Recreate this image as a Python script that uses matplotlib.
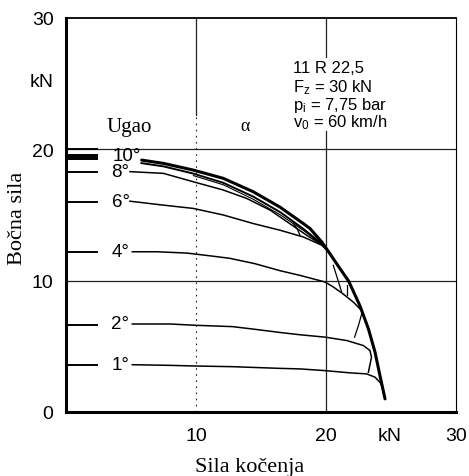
import matplotlib
matplotlib.use("Agg")
import matplotlib.pyplot as plt

# ---- data ----
env_x = [5.82, 7.49, 9.79, 12.1, 14.4, 16.46, 18.25, 18.77, 19.67, 20.2, 20.95, 21.75, 22.6, 23.26, 23.77, 24.15, 24.54]
env_y = [19.18, 18.93, 18.42, 17.79, 16.77, 15.6, 14.35, 13.97, 12.95, 12.2, 11.1, 9.95, 8.11, 6.34, 4.56, 2.77, 1.0]

a10_x = [5.8, 7.5, 9.8, 12.1, 14.4, 16.5, 18.25, 19.7, 20.2]
a10_y = [18.95, 18.7, 18.15, 17.45, 16.4, 15.2, 13.95, 12.8, 12.2]

a10b_x = [9.8, 12.1, 14.4, 16.5, 18.3, 19.6]
a10b_y = [18.0, 17.3, 16.2, 15.0, 13.8, 12.8]

a8_x = [4.92, 7.49, 9.79, 12.1, 13.9, 15.7, 17.2, 18.6, 19.67, 20.2]
a8_y = [18.3, 18.17, 17.53, 16.9, 16.26, 15.37, 14.35, 13.4, 12.75, 12.2]

a6_x = [4.92, 7.49, 9.79, 12.1, 14.4, 16.46, 18.25, 19.67, 20.4]
a6_y = [16.05, 15.75, 15.5, 15.0, 14.35, 13.84, 13.33, 12.7, 12.0]

a4_x = [5.1, 7.0, 9.3, 11.0, 12.6, 14.5, 16.5, 18.0, 19.92, 20.56, 21.3, 22.1, 22.6]
a4_y = [12.2, 12.2, 12.1, 11.9, 11.7, 11.3, 10.75, 10.4, 9.9, 9.52, 9.0, 8.37, 7.86]

a2_x = [5.1, 8.0, 10.0, 12.8, 14.5, 16.5, 18.0, 19.92, 21.6, 22.87, 23.38, 23.5, 23.26]
a2_y = [6.7, 6.7, 6.6, 6.5, 6.3, 6.05, 5.88, 5.7, 5.44, 5.06, 4.68, 4.17, 3.03]

a1_x = [5.1, 8.0, 10.0, 12.8, 16.5, 18.0, 19.92, 21.85, 23.13, 23.77, 24.15, 24.35]
a1_y = [3.6, 3.55, 3.5, 3.45, 3.32, 3.28, 3.15, 2.98, 2.9, 2.65, 2.26, 1.9]

hooks = [
    ([22.75, 22.5, 22.2], [7.48, 6.6, 5.7]),
    ([20.56, 20.9, 21.2], [11.17, 10.1, 9.14]),
    ([21.6, 21.6], [9.65, 8.9]),
    ([17.5, 17.8, 18.0], [14.35, 13.9, 13.46]),
]

marker_levels = [20.0, 19.6, 19.4, 19.25, 18.3, 16.0, 12.2, 6.6, 3.6]
angle_labels = ["10°", "8°", "6°", "4°", "2°", "1°"]
angle_label_x = [4.7, 4.2, 4.2, 4.2, 4.15, 4.2]
angle_label_y = [19.5, 18.3, 16.0, 12.2, 6.7, 3.6]

xtick_pos = [10, 20, 24.9, 30]
xtick_lab = ["10", "20", "kN", "30"]
ytick_pos = [0, 10, 20, 25.3, 30]
ytick_lab = ["0", "10", "20", "kN", "30"]

info_lines = ["11 R 22,5", r"$\mathregular{F_z}$ = 30 kN",
              r"$\mathregular{p_i}$ = 7,75 bar", r"$\mathregular{v_0}$ = 60 km/h"]
info_y = [26.2, 24.8, 23.45, 22.1]

# ---- figure ----
plt.rcParams['font.family'] = ['Liberation Sans', 'DejaVu Sans']
fig = plt.figure(figsize=(4.69, 4.77), dpi=100)
ax = fig.add_axes([0.1407, 0.1342, 0.8316, 0.826])
ax.set_xlim(0, 30)
ax.set_ylim(0, 30)

# grid lines
gc = '#222222'
ax.plot([10, 10], [22.6, 30], color=gc, lw=0.9)
ax.plot([10, 10], [0, 22.6], color=gc, lw=0.8, ls=(0, (1.5, 4)))
ax.plot([20, 20], [0, 21.4], color=gc, lw=0.9)
ax.plot([20, 20], [27.0, 30], color=gc, lw=0.9)
ax.plot([0, 30], [10, 10], color=gc, lw=0.9)
ax.plot([0, 30], [20, 20], color=gc, lw=0.9)

# curves
ax.plot(env_x, env_y, color='black', lw=2.2, solid_capstyle='round', solid_joinstyle='round')
ax.plot(a10_x, a10_y, color='black', lw=1.4, solid_joinstyle='round')
ax.plot(a10b_x, a10b_y, color='black', lw=0.8, solid_joinstyle='round')
for xs, ys in [(a8_x, a8_y), (a6_x, a6_y), (a4_x, a4_y), (a2_x, a2_y), (a1_x, a1_y)]:
    ax.plot(xs, ys, color='black', lw=1.1, solid_joinstyle='round')
for hx, hy in hooks:
    ax.plot(hx, hy, color='black', lw=0.9)

for lv in marker_levels:
    ax.plot([0.2, 2.4], [lv, lv], color='black', lw=1.4)

for lab, lx, ly in zip(angle_labels, angle_label_x, angle_label_y):
    ax.text(lx, ly, lab, ha='center', va='center', fontsize=13.5)

ax.text(4.85, 21.75, "Ugao", ha='center', va='center', fontsize=15,
        family='Liberation Serif')
ax.text(13.8, 21.8, "α", ha='center', va='center', fontsize=13,
        family='Liberation Serif')

for t, yy in zip(info_lines, info_y):
    ax.text(17.45, yy, t, ha='left', va='center', fontsize=12)

ax.set_xticks(xtick_pos)
ax.set_xticklabels(xtick_lab)
ax.set_yticks(ytick_pos)
ax.set_yticklabels(ytick_lab)
ax.tick_params(length=0, labelsize=14, pad=9)
ax.tick_params(axis='x', pad=11)

ax.set_xlabel("Sila kočenja", family='Liberation Serif', fontsize=16)
ax.set_ylabel("Bočna sila", family='Liberation Serif', fontsize=16)
ax.xaxis.set_label_coords(0.472, -0.115)
ax.yaxis.set_label_coords(-0.1, 0.495)

ax.spines['left'].set_linewidth(2.2)
ax.spines['bottom'].set_linewidth(2.2)
ax.spines['top'].set_linewidth(1.3)
ax.spines['right'].set_linewidth(0.8)

fig.savefig("out.png", dpi=100)
